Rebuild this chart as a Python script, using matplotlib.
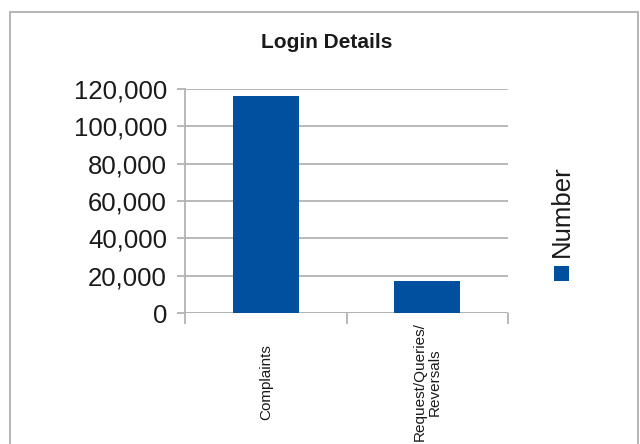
import matplotlib
matplotlib.use("Agg")
import matplotlib.pyplot as plt
from matplotlib.patches import Rectangle
from matplotlib.ticker import FuncFormatter

categories = ["Complaints", "Request/Queries/\nReversals"]
values = [116000, 17000]
series_name = "Number"
title = "Login Details"
yticks = [0, 20000, 40000, 60000, 80000, 100000, 120000]

bar_color = "#00509F"
grid_color = "#B3B3B3"
text_color = "#1A1A1A"

plt.rcParams['font.family'] = ['Liberation Sans', 'DejaVu Sans']

fig = plt.figure(figsize=(6.4, 4.44), dpi=100)
W, H = 640, 444

# outer chart border
fig.patches.append(Rectangle((10 / W, -0.1), 628 / W, (H - 12) / H + 0.1,
                             transform=fig.transFigure, fill=False,
                             edgecolor="#B0B0B0", linewidth=1.3))

ax = fig.add_axes([185 / W, 1 - 313 / H, (508 - 185) / W, (313 - 89) / H])
x = list(range(len(categories)))
ax.bar(x, values, width=0.41, color=bar_color, zorder=3)
ax.set_xlim(-0.5, len(categories) - 0.5)
ax.set_ylim(0, 120000)
ax.set_yticks(yticks)
ax.yaxis.set_major_formatter(FuncFormatter(lambda v, p: f"{int(v):,}"))
ax.yaxis.grid(True, color=grid_color, linewidth=1.3, zorder=0)
for s in ["top", "right", "bottom"]:
    ax.spines[s].set_visible(False)
ax.spines["left"].set_color(grid_color)
ax.spines["left"].set_linewidth(1.3)
ax.tick_params(axis="y", length=6, width=1.3, color=grid_color, pad=7,
               labelsize=18.5, labelcolor=text_color)

# x ticks at category boundaries, labels at centers
ax.set_xticks([i - 0.5 for i in range(len(categories) + 1)])
ax.set_xticklabels([])
ax.tick_params(axis="x", which="major", length=8, width=1.3, color=grid_color)
ax.set_xticks(x, minor=True)
ax.set_xticklabels(categories, minor=True, rotation=90, va="center",
                   ha="center", multialignment="center", fontsize=11,
                   color=text_color, linespacing=1.15)
ax.tick_params(axis="x", which="minor", length=0, pad=69 * 0.72)
ax.axhline(0, color=grid_color, linewidth=1.3, zorder=2)

fig.text(327 / W, 1 - 43 / H, title, ha="center", va="center",
         fontsize=15, fontweight="bold", color=text_color)

# legend
fig.patches.append(Rectangle((554 / W, 1 - 281 / H), 15 / W, 15 / H,
                             transform=fig.transFigure, facecolor=bar_color,
                             edgecolor="none"))
fig.text(561.5 / W, 1 - 211.5 / H, series_name, rotation=90, ha="center",
         va="center", fontsize=18.5, color=text_color)

fig.savefig("out.png", dpi=100)
